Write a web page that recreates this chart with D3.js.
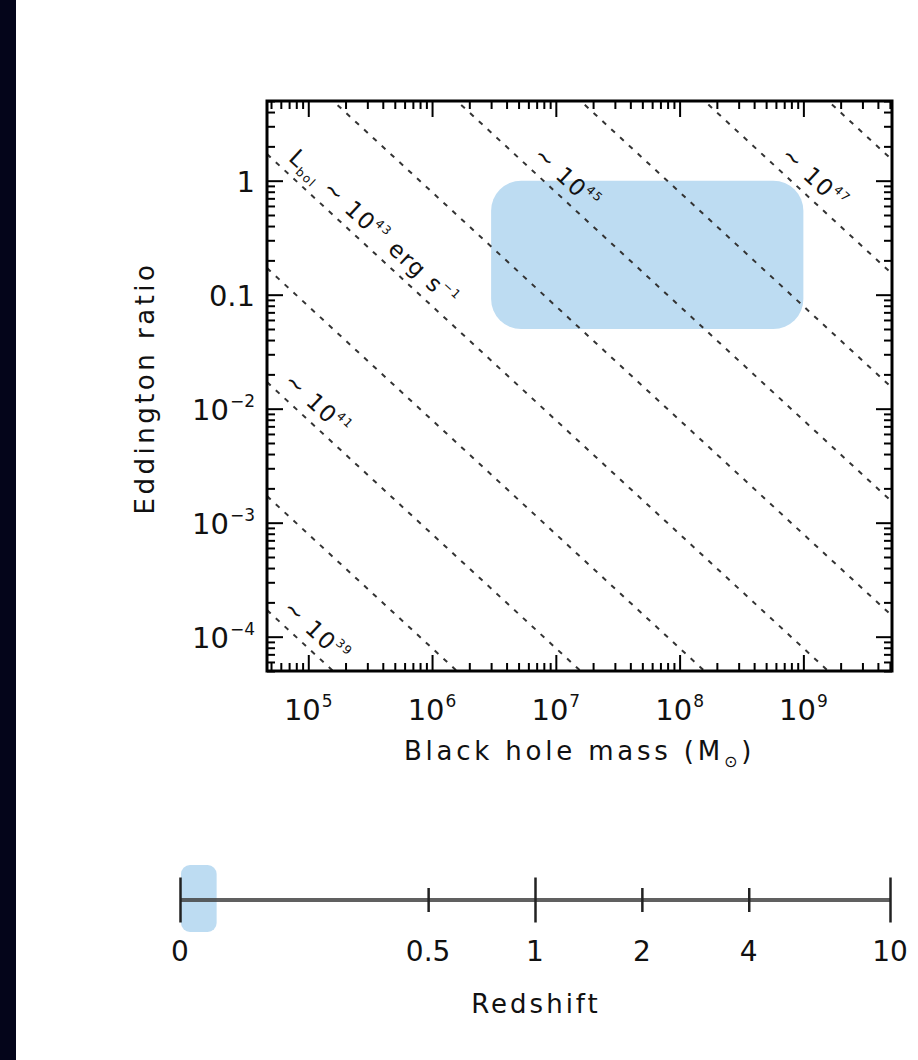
<!DOCTYPE html>
<html>
<head>
<meta charset="utf-8">
<script src="https://cdn.jsdelivr.net/npm/d3@7"></script>
<style>
  body { margin: 0; background: #fff; }
  svg { display: block; }
  text { font-family: "DejaVu Sans", sans-serif; fill: #111; }
</style>
</head>
<body>
<div id="chart"></div>
<script>
// ---- data ----
// constant bolometric luminosity lines, log10(L / erg s^-1)
const lumExps = [39, 40, 41, 42, 43, 44, 45, 46, 47, 48];
const lumLabelExps = [39, 41, 43, 45, 47];
const lumLabelMass = [5.4e4, 5.5e4, 6.0e4, 5.7e6, 5.7e8];   // mass where each label starts
const eddCoeff = 1.26e38;   // L_Edd per solar mass

const massDomain = [4.64e4, 5.2e9];
const eddDomain = [5e-5, 5];
const massMajor = [1e5, 1e6, 1e7, 1e8, 1e9];
const massExp = ["5", "6", "7", "8", "9"];
const eddMajor = [1, 0.1, 0.01, 0.001, 0.0001];
const eddBase = ["1", "0.1", "10", "10", "10"];
const eddExp = ["", "", "\u22122", "\u22123", "\u22124"];

// shaded sample region
const boxMass = [3e6, 1e9];
const boxEdd = [0.05, 1];

// redshift strip
const zDomain = [0.1, 10];
const zTicks = [0.1, 0.5, 1, 2, 4, 10];
const zLabels = ["0", "0.5", "1", "2", "4", "10"];
const zMajor = [0.1, 1, 10];
const zBox = [0.1, 0.126];

// ---- layout ----
const width = 918, height = 1060;
const plot = {left: 267, right: 892, top: 101, bottom: 671};
const blue = "#bddcf2";

const svg = d3.select("#chart").append("svg")
  .attr("width", width)
  .attr("height", height);

svg.append("rect").attr("width", width).attr("height", height).attr("fill", "#fff");
svg.append("rect").attr("width", 16).attr("height", height).attr("fill", "#04051a");

const x = d3.scaleLog().domain(massDomain).range([plot.left, plot.right]);
const y = d3.scaleLog().domain(eddDomain).range([plot.bottom, plot.top]);

svg.append("clipPath").attr("id", "clip")
  .append("rect")
  .attr("x", plot.left).attr("y", plot.top)
  .attr("width", plot.right - plot.left)
  .attr("height", plot.bottom - plot.top);

// shaded box
svg.append("rect")
  .attr("x", x(boxMass[0]))
  .attr("y", y(boxEdd[1]))
  .attr("width", x(boxMass[1]) - x(boxMass[0]))
  .attr("height", y(boxEdd[0]) - y(boxEdd[1]))
  .attr("rx", 30)
  .attr("fill", blue);

// dashed luminosity lines
const line = d3.line().x(d => x(d[0])).y(d => y(d[1]));
const lines = svg.append("g").attr("clip-path", "url(#clip)");
lumExps.forEach(function(e) {
  const L = Math.pow(10, e);
  const pts = massDomain.map(m => [m, L / (eddCoeff * m)]);
  lines.append("path")
    .attr("d", line(pts))
    .attr("fill", "none")
    .attr("stroke", "#333")
    .attr("stroke-width", 2)
    .attr("stroke-dasharray", "5,7");
});

// line labels, rotated along the lines
const p1 = [x(1e5), y(1)], p2 = [x(1e6), y(0.1)];
const ang = Math.atan2(p2[1] - p1[1], p2[0] - p1[0]);
const angDeg = ang * 180 / Math.PI;
const off = 10;
lumLabelExps.forEach(function(e, i) {
  const m = lumLabelMass[i];
  const px = x(m) + off * Math.sin(ang);
  const py = y(Math.pow(10, e) / (eddCoeff * m)) - off * Math.cos(ang);
  const t = svg.append("text")
    .attr("transform", "translate(" + px + "," + py + ") rotate(" + angDeg + ")")
    .attr("font-size", "23px")
    .attr("letter-spacing", "1.5px");
  if (e === 43) {
    t.append("tspan").text("L");
    t.append("tspan").attr("font-size", "12px").attr("dy", 5).text("bol");
    t.append("tspan").attr("dy", -5).text(" \u223C 10");
  } else {
    t.append("tspan").text("\u223C 10");
  }
  t.append("tspan").attr("font-size", "12px").attr("dy", -11).text(String(e));
  if (e === 43) {
    t.append("tspan").attr("dy", 11).text(" erg s");
    t.append("tspan").attr("font-size", "12px").attr("dy", -11).text("\u22121");
  }
});

// axes: inward ticks on all four sides
function ticks(axisFn, scale, vals, size, tr) {
  svg.append("g")
    .attr("transform", tr)
    .call(axisFn(scale).tickValues(vals).tickSize(size).tickFormat(""))
    .call(g => g.select(".domain").remove())
    .selectAll("line")
    .attr("stroke", "#000")
    .attr("stroke-width", 2);
}
const isMajor = v => Math.abs(Math.log10(v) - Math.round(Math.log10(v))) < 1e-6;
const xMinor = x.ticks().filter(v => !isMajor(v));
const yMinor = y.ticks().filter(v => !isMajor(v));

ticks(d3.axisBottom, x, xMinor, -8, "translate(0," + plot.bottom + ")");
ticks(d3.axisBottom, x, massMajor, -16, "translate(0," + plot.bottom + ")");
ticks(d3.axisTop, x, xMinor, -8, "translate(0," + plot.top + ")");
ticks(d3.axisTop, x, massMajor, -16, "translate(0," + plot.top + ")");
ticks(d3.axisLeft, y, yMinor, -8, "translate(" + plot.left + ",0)");
ticks(d3.axisLeft, y, eddMajor, -16, "translate(" + plot.left + ",0)");
ticks(d3.axisRight, y, yMinor, -8, "translate(" + plot.right + ",0)");
ticks(d3.axisRight, y, eddMajor, -16, "translate(" + plot.right + ",0)");

svg.append("rect")
  .attr("x", plot.left).attr("y", plot.top)
  .attr("width", plot.right - plot.left)
  .attr("height", plot.bottom - plot.top)
  .attr("fill", "none")
  .attr("stroke", "#000")
  .attr("stroke-width", 3);

// x tick labels
massMajor.forEach(function(v, i) {
  const t = svg.append("text")
    .attr("x", x(v))
    .attr("y", plot.bottom + 49)
    .attr("text-anchor", "middle")
    .attr("font-size", "29px");
  t.append("tspan").text("10");
  t.append("tspan").attr("font-size", "17px").attr("dy", -13).attr("dx", 1).text(massExp[i]);
});

// y tick labels
eddMajor.forEach(function(v, i) {
  const t = svg.append("text")
    .attr("x", plot.left - 12)
    .attr("y", y(v) + 11)
    .attr("text-anchor", "end")
    .attr("font-size", "29px");
  t.append("tspan").text(eddBase[i]);
  if (eddExp[i]) t.append("tspan").attr("font-size", "17px").attr("dy", -13).attr("dx", 1).text(eddExp[i]);
});

// axis titles
const xt = svg.append("text")
  .attr("x", (plot.left + plot.right) / 2)
  .attr("y", 760)
  .attr("text-anchor", "middle")
  .attr("font-size", "26px")
  .attr("letter-spacing", "3.8px");
xt.append("tspan").text("Black hole mass (M");
xt.append("tspan").attr("font-size", "16px").attr("dy", 7).text("\u2299");
xt.append("tspan").attr("dy", -7).text(")");

svg.append("text")
  .attr("transform", "translate(154," + ((plot.top + plot.bottom) / 2 + 2) + ") rotate(-90)")
  .attr("text-anchor", "middle")
  .attr("font-size", "26px")
  .attr("letter-spacing", "3.5px")
  .text("Eddington ratio");

// ---- redshift strip ----
const zx = d3.scaleLog().domain(zDomain).range([180, 890]);
const zy = 900;

svg.append("rect")
  .attr("x", zx(zBox[0]) + 1)
  .attr("y", zy - 35)
  .attr("width", zx(zBox[1]) - zx(zBox[0]))
  .attr("height", 67)
  .attr("rx", 9)
  .attr("fill", blue);

svg.append("line")
  .attr("x1", zx(zDomain[0])).attr("x2", zx(zDomain[1]))
  .attr("y1", zy).attr("y2", zy)
  .attr("stroke", "#444")
  .attr("stroke-opacity", 0.85)
  .attr("stroke-width", 4);

function zticks(vals, size) {
  svg.append("g")
    .attr("transform", "translate(0," + (zy - size / 2) + ")")
    .call(d3.axisBottom(zx).tickValues(vals).tickSize(size).tickFormat(""))
    .call(g => g.select(".domain").remove())
    .selectAll("line")
    .attr("stroke", "#222")
    .attr("stroke-width", 2.5);
}
zticks(zTicks.filter(v => zMajor.indexOf(v) < 0), 24);
zticks(zMajor, 45);

zTicks.forEach(function(v, i) {
  svg.append("text")
    .attr("x", zx(v))
    .attr("y", zy + 61)
    .attr("text-anchor", "middle")
    .attr("font-size", "28px")
    .text(zLabels[i]);
});

svg.append("text")
  .attr("x", 536)
  .attr("y", 1013)
  .attr("text-anchor", "middle")
  .attr("font-size", "26px")
  .attr("letter-spacing", "3px")
  .text("Redshift");
</script>
</body>
</html>
